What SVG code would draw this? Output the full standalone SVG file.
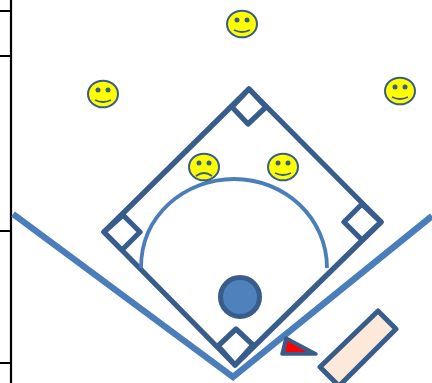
<svg xmlns="http://www.w3.org/2000/svg" width="432" height="383" viewBox="0 0 432 383">
<style>
.axis{fill:none;stroke:#000;stroke-width:2.2}
.base{fill:#fff;stroke:#385d8a;stroke-width:5.3;stroke-linejoin:round}
.field{fill:none;stroke:#385d8a;stroke-width:5.3;stroke-linejoin:round}
.foul{fill:none;stroke:#4a7ebb;stroke-width:6.5}
.arc{fill:none;stroke:#4a7ebb;stroke-width:3.8}
.face{fill:#ff0;stroke:#385d8a;stroke-width:2}
.eye{fill:#385d8a}
.mouth{fill:none;stroke:#385d8a;stroke-width:1.8}
</style>
<defs>
<g id="smile"><ellipse class="face" cx="0" cy="0" rx="15" ry="13.3"/><circle class="eye" cx="-5" cy="-4" r="2.5"/><circle class="eye" cx="5" cy="-4" r="2.5"/><path class="mouth" d="M-8 6Q0 10 8 6"/></g>
<g id="frown"><ellipse class="face" cx="0" cy="0" rx="15" ry="13.3"/><circle class="eye" cx="-5" cy="-4" r="2.5"/><circle class="eye" cx="5" cy="-4" r="2.5"/><path class="mouth" d="M-8 9Q0 3 8 9"/></g>
</defs>
<g id="axis"><path class="axis" d="M11 0V383M0 11H11M0 56H11M0 231H11M0 363H11"/></g>
<g id="field"><path class="field" d="M249 89L381 222L235 365L104 232Z"/></g>
<g id="base-second"><path class="base" d="M249 89L266 107L248 124L232 107Z"/></g>
<g id="base-first"><path class="base" d="M362 204L381 222L362 240L344 222Z"/></g>
<g id="base-third"><path class="base" d="M123 215L140 232L122 250L104 232Z"/></g>
<g id="base-home"><path class="base" d="M236 329L253 345L235 365L218 346Z"/></g>
<g id="connectors">
<path class="foul" d="M13 214L233 377L432 216"/>
<path class="arc" d="M141 268C141 215 185 179 234 179C285 179 327 218 327 268"/>
</g>
<g id="pitcher"><circle cx="240" cy="297" r="19.5" fill="#4f81bd" stroke="#385d8a" stroke-width="5"/></g>
<g id="catcher"><path d="M286 338L316 354H282Z" fill="#385d8a" stroke="#385d8a" stroke-width="3.5" stroke-linejoin="round"/><path d="M287.500 341L306.500 352H285.500Z" fill="#f00"/></g>
<g id="bat"><path d="M378 311L396 329L339 386L320 367Z" fill="#fde9d9" stroke="#385d8a" stroke-width="5" stroke-linejoin="round"/></g>
<g id="player-1"><use href="#smile" x="242" y="24"/></g>
<g id="player-2"><use href="#smile" x="103" y="94"/></g>
<g id="player-3"><use href="#smile" x="400" y="91"/></g>
<g id="player-4"><use href="#frown" x="204" y="167"/></g>
<g id="player-5"><use href="#smile" x="283" y="167"/></g>
</svg>
